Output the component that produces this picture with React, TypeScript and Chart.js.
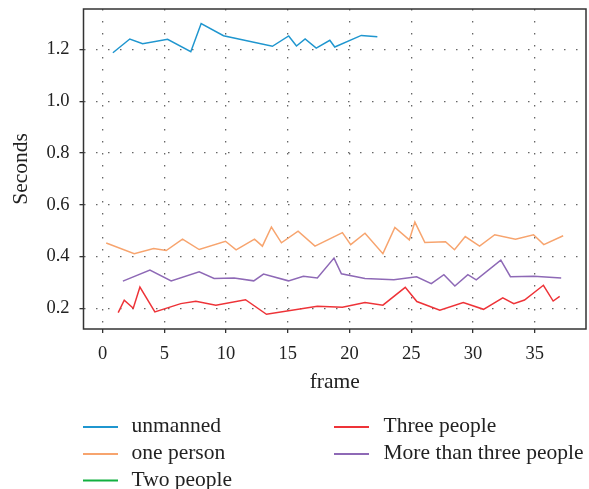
import React, { useEffect, useRef } from 'react';
import { Chart, registerables } from 'chart.js';

Chart.register(...registerables);

// ---- data ----
const xTickValues = [0, 5, 10, 15, 20, 25, 30, 35];
const yTickValues = [0.2, 0.4, 0.6, 0.8, 1.0, 1.2];

const seriesNames = ['unmanned', 'one person', 'Two people', 'Three people', 'More than three people'];
const seriesColors = ['#1f96cf', '#f7a46e', '#12b040', '#ee3338', '#8e69b6'];

const unmannedFrames = [0.83, 2.2, 3.24, 5.26, 7.14, 7.98, 9.79, 13.75, 15.07, 15.7, 16.4, 17.3, 18.4, 18.8, 20.95, 22.25];
const unmannedSeconds = [1.187, 1.24, 1.222, 1.239, 1.191, 1.3, 1.253, 1.212, 1.252, 1.213, 1.24, 1.205, 1.235, 1.209, 1.254, 1.249];

const onePersonFrames = [0.29, 2.56, 4.13, 5.15, 6.47, 7.82, 9.95, 10.81, 12.3, 12.94, 13.67, 14.48, 15.83, 17.2, 19.42, 20.09, 21.25, 22.7, 23.67, 24.84, 25.29, 26.1, 27.77, 28.5, 29.37, 30.53, 31.76, 33.44, 34.9, 35.73, 37.3];
const onePersonSeconds = [0.452, 0.411, 0.431, 0.423, 0.467, 0.427, 0.459, 0.426, 0.467, 0.44, 0.514, 0.453, 0.498, 0.44, 0.492, 0.446, 0.49, 0.411, 0.512, 0.464, 0.533, 0.454, 0.457, 0.426, 0.477, 0.44, 0.484, 0.467, 0.484, 0.446, 0.48];

const twoPeopleFrames: number[] = [];
const twoPeopleSeconds: number[] = [];

const threePeopleFrames = [1.26, 1.75, 2.48, 3.02, 4.23, 6.33, 7.55, 9.17, 11.57, 13.27, 17.39, 19.42, 21.25, 22.7, 24.51, 25.45, 27.31, 29.21, 30.85, 32.41, 33.3, 34.17, 35.7, 36.49, 37.02];
const threePeopleSeconds = [0.183, 0.231, 0.2, 0.282, 0.186, 0.218, 0.227, 0.212, 0.233, 0.177, 0.208, 0.204, 0.222, 0.212, 0.281, 0.226, 0.193, 0.222, 0.196, 0.24, 0.218, 0.232, 0.289, 0.228, 0.246];

const moreFrames = [1.64, 3.83, 5.55, 7.82, 9.03, 10.65, 12.24, 13.03, 15.05, 16.26, 17.39, 18.74, 19.34, 21.25, 23.59, 25.43, 26.62, 27.64, 28.53, 29.58, 30.26, 32.25, 33.03, 34.92, 37.14];
const moreSeconds = [0.305, 0.348, 0.306, 0.341, 0.315, 0.317, 0.306, 0.332, 0.306, 0.324, 0.317, 0.394, 0.333, 0.315, 0.31, 0.322, 0.295, 0.33, 0.286, 0.33, 0.31, 0.386, 0.322, 0.324, 0.317];

const seriesFrames = [unmannedFrames, onePersonFrames, twoPeopleFrames, threePeopleFrames, moreFrames];
const seriesSeconds = [unmannedSeconds, onePersonSeconds, twoPeopleSeconds, threePeopleSeconds, moreSeconds];

const FONT = '"Liberation Serif", "Times New Roman", serif';
const TEXT = '#222222';

const framePlugin = {
  id: 'frameBox',
  beforeDatasetsDraw(chart: any) {
    const { ctx, chartArea } = chart;
    ctx.save();
    ctx.strokeStyle = '#333333';
    ctx.lineWidth = 1.5;
    ctx.strokeRect(chartArea.left, chartArea.top, chartArea.right - chartArea.left, chartArea.bottom - chartArea.top);
    ctx.restore();
  },
};

const legendPlugin = {
  id: 'columnLegend',
  afterDraw(chart: any) {
    const ctx = chart.ctx;
    const datasets = chart.data.datasets;
    const cols = [
      { lineX: 83, textX: 131.5 },
      { lineX: 334, textX: 383.5 },
    ];
    const rows = [427, 454, 480.5];
    ctx.save();
    ctx.font = `21.5px ${FONT}`;
    ctx.textBaseline = 'middle';
    ctx.textAlign = 'left';
    datasets.forEach((d: any, i: number) => {
      const c = cols[i < 3 ? 0 : 1];
      const y = rows[i < 3 ? i : i - 3];
      ctx.strokeStyle = d.borderColor;
      ctx.lineWidth = 1.8;
      ctx.beginPath();
      ctx.moveTo(c.lineX, y);
      ctx.lineTo(c.lineX + 35, y);
      ctx.stroke();
      ctx.fillStyle = TEXT;
      ctx.fillText(d.label, c.textX, y - 0.5);
    });
    ctx.restore();
  },
};

export default function App() {
  const ref = useRef<HTMLCanvasElement | null>(null);

  useEffect(() => {
    if (!ref.current) return;
    const datasets = seriesNames.map((name, i) => ({
      label: name,
      data: seriesFrames[i].map((x, j) => ({ x, y: seriesSeconds[i][j] })),
      borderColor: seriesColors[i],
      backgroundColor: seriesColors[i],
      borderWidth: 1.5,
      pointRadius: 0,
      tension: 0,
      fill: false,
    }));

    const chart = new Chart(ref.current, {
      type: 'line',
      data: { datasets },
      plugins: [framePlugin, legendPlugin],
      options: {
        animation: false,
        responsive: false,
        maintainAspectRatio: false,
        layout: { padding: { left: 0, top: 9, right: 3, bottom: 90 } },
        plugins: {
          legend: { display: false },
          tooltip: { enabled: false },
        },
        scales: {
          x: {
            type: 'linear',
            min: -1.55,
            max: 39.15,
            afterBuildTicks: (scale: any) => {
              scale.ticks = xTickValues.map((v) => ({ value: v }));
            },
            afterFit: (scale: any) => {
              scale.height = 70;
              scale.paddingLeft = 0;
              scale.paddingRight = 0;
            },
            ticks: {
              font: { family: FONT, size: 18.5 },
              color: TEXT,
              padding: 10,
              maxRotation: 0,
              callback: (v: any) => String(v),
            },
            grid: {
              color: '#666666',
              lineWidth: 1.3,
              drawTicks: true,
              tickLength: 4,
              tickColor: '#333333',
              tickWidth: 1.3,
              tickBorderDash: [],
            },
            border: { display: false, dash: [1.5, 10.5] },
            title: {
              display: true,
              text: 'frame',
              font: { family: FONT, size: 21.5 },
              color: TEXT,
              padding: { top: 0, bottom: 4 },
            },
          },
          y: {
            type: 'linear',
            min: 0.12,
            max: 1.356,
            afterBuildTicks: (scale: any) => {
              scale.ticks = yTickValues.map((v) => ({ value: v }));
            },
            afterFit: (scale: any) => {
              scale.width = 83.5;
              scale.paddingTop = 0;
              scale.paddingBottom = 0;
            },
            ticks: {
              font: { family: FONT, size: 18.5 },
              color: TEXT,
              padding: 10,
              callback: (v: any) => Number(v).toFixed(1),
            },
            grid: {
              color: '#666666',
              lineWidth: 1.3,
              drawTicks: true,
              tickLength: 4,
              tickColor: '#333333',
              tickWidth: 1.3,
              tickBorderDash: [],
            },
            border: { display: false, dash: [1.5, 10.5] },
            title: {
              display: true,
              text: 'Seconds',
              font: { family: FONT, size: 21.5 },
              color: TEXT,
              padding: { top: 8, bottom: 0 },
            },
          },
        },
      } as any,
    });
    return () => chart.destroy();
  }, []);

  return (
    <div style={{ position: 'fixed', left: 0, top: 0, width: 589, height: 489, background: '#ffffff' }}>
      <canvas ref={ref} width={589} height={489} style={{ display: 'block', width: 589, height: 489 }} />
    </div>
  );
}
